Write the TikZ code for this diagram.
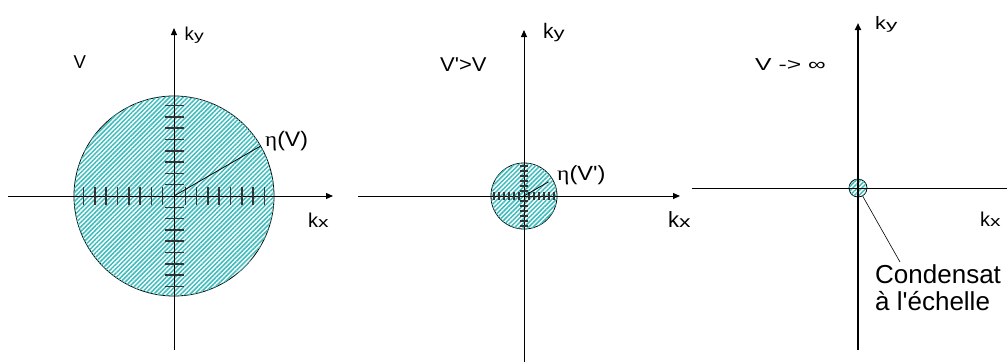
\documentclass[tikz,border=0pt]{standalone}
\usepackage{fontspec}
\setmainfont{Liberation Sans}
\newfontfamily\etafont{Liberation Serif}
\usetikzlibrary{arrows.meta,patterns.meta,calc}
\definecolor{hatchcol}{RGB}{60,188,188}
\newcommand{\ksub}[1]{k\scalebox{1.05}[0.75]{#1}}
\newcommand{\xs}[2]{\scalebox{#1}[1]{#2}}
\newcommand{\sq}{\textquotesingle}
\tikzset{
  axisline/.style={line width=1pt,-{Triangle[length=7pt,width=6pt]}},
  disc/.style={circle,inner sep=0pt,draw=black,line width=0.8pt,fill=white,
    postaction={pattern={Lines[angle=45,distance=3.2pt,line width=1.5pt]},pattern color=hatchcol}},
  tickmark/.style={line width=1.5pt,draw=black!80},
  lbl/.style={inner sep=0pt,anchor=base west},
  radius line/.style={line width=0.8pt},
}
\begin{document}
\begin{tikzpicture}[x=1pt,y=-1pt]
\useasboundingbox (0,0) rectangle (1007,362);
% ---------- panel 1 ----------
\node[disc,minimum size=200pt] (d1) at (174,196) {};
\coordinate (x1s) at (8,196);   \coordinate (x1e) at (333,196);
\coordinate (y1s) at (174,350); \coordinate (y1e) at (174,28);
\draw[axisline] (x1s) -- (x1e);
\draw[axisline] (y1s) -- (y1e);
\foreach \i in {1,...,8} {
  \draw[tickmark] (174+\i*11.3,187) -- ++(0,18);
  \draw[tickmark] (174-\i*11.3,187) -- ++(0,18);
  \draw[tickmark] (164.5,196+\i*11.3) -- ++(19,0);
  \draw[tickmark] (164.5,196-\i*11.3) -- ++(19,0);
}
\draw[radius line] (d1.center) -- (d1.30);
\node[lbl,font=\fontsize{18.6}{20}\selectfont] (v1) at (73.5,68.3) {V};
\node[lbl,font=\fontsize{18.6}{20}\selectfont] (ky1) at (184.5,40) {\ksub{y}};
\node[lbl,font=\fontsize{20}{22}\selectfont] (kx1) at (308,227) {\ksub{x}};
\node[lbl,font=\fontsize{21}{22}\selectfont] (eta1) at (265,146) {\xs{1.1}{{\etafont η}(V)}};
% ---------- panel 2 ----------
\node[disc,minimum size=66pt] (d2) at (524,196) {};
\coordinate (x2s) at (358,196); \coordinate (x2e) at (680,196);
\coordinate (y2s) at (524,362); \coordinate (y2e) at (524,30);
\draw[axisline] (x2s) -- (x2e);
\draw[axisline] (y2s) -- (y2e);
\foreach \i in {1,...,6} {
  \draw[tickmark,line width=1.1pt] (524+\i*5,192) -- ++(0,8);
  \draw[tickmark,line width=1.1pt] (524-\i*5,192) -- ++(0,8);
  \draw[tickmark,line width=1.1pt] (520,196+\i*5) -- ++(8,0);
  \draw[tickmark,line width=1.1pt] (520,196-\i*5) -- ++(8,0);
}
\draw[radius line] (d2.center) -- ($(d2.center)!0.85!(d2.30)$);
\node[lbl,font=\fontsize{20}{22}\selectfont] (v2) at (440,71) {\xs{1.1}{V\sq>V}};
\node[lbl,font=\fontsize{21}{22}\selectfont] (ky2) at (543,38) {\ksub{y}};
\node[lbl,font=\fontsize{22}{24}\selectfont] (kx2) at (668,227) {\ksub{x}};
\node[lbl,font=\fontsize{20.5}{22}\selectfont] (eta2) at (557,180) {\xs{1.15}{{\etafont η}(V\sq)}};
% ---------- panel 3 ----------
\node[disc,minimum size=18pt] (d3) at (858,188) {};
\coordinate (x3s) at (692,188); \coordinate (x3e) at (1007,188);
\coordinate (y3s) at (858,350); \coordinate (y3e) at (858,23);
\draw[line width=1pt] (x3s) -- (x3e);
\draw[axisline,line width=2pt] (y3s) -- (y3e);
\node[lbl,font=\fontsize{18}{20}\selectfont] (ky3) at (875,29.5) {\xs{1.2}{\ksub{y}}};
\node[lbl,font=\fontsize{17.3}{20}\selectfont] (v3) at (755,70.5) {\xs{1.43}{V -> ∞}};
\node[lbl,font=\fontsize{20}{22}\selectfont] (kx3) at (980,226.5) {\ksub{x}};
\node[inner sep=0pt,anchor=north west,align=left,font=\fontsize{26}{27}\selectfont] (cond) at (875,264.5) {Condensat\\à l\sq échelle};
\coordinate (lead) at (900,262);
\draw[line width=0.6pt] (d3.-60) -- (lead);
\end{tikzpicture}
\end{document}
